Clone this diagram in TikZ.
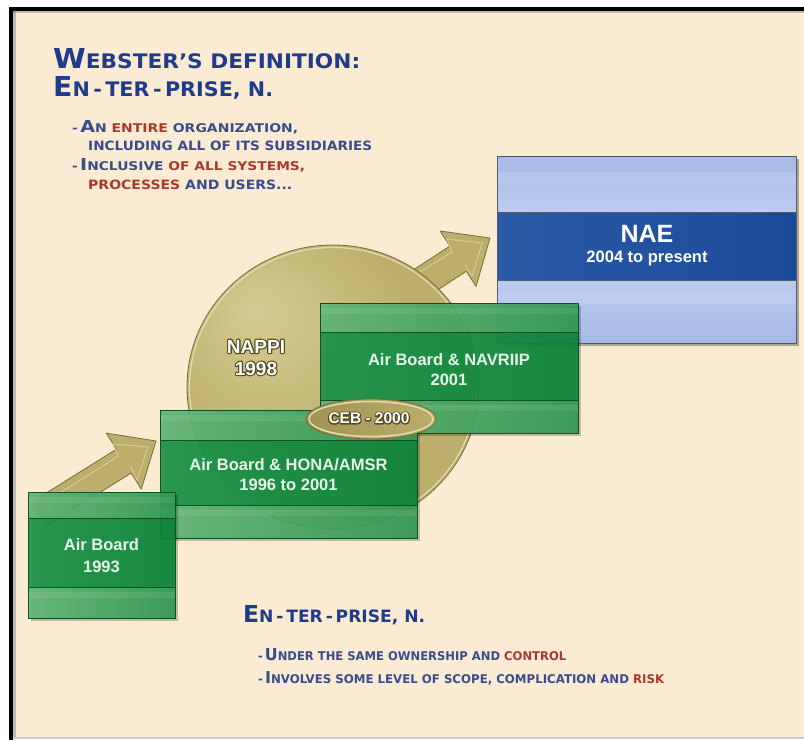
\documentclass[tikz,border=0pt]{standalone}
\usepackage{fontspec}
\usepackage{graphicx}
\setmainfont{Liberation Sans}
\newfontfamily\cpfont{DejaVu Sans}
\definecolor{cream}{RGB}{251,235,211}
\definecolor{glL}{RGB}{98,182,120}
\definecolor{glR}{RGB}{50,153,84}
\definecolor{gdL}{RGB}{30,148,74}
\definecolor{gdR}{RGB}{12,133,58}
\definecolor{gbd}{RGB}{12,80,38}
\definecolor{gold}{RGB}{188,175,108}
\definecolor{goldL}{RGB}{214,203,145}
\definecolor{goldD}{RGB}{160,146,82}
\definecolor{goldE}{RGB}{118,108,55}
\definecolor{blL}{RGB}{165,186,232}
\definecolor{blR}{RGB}{188,204,240}
\definecolor{blD}{RGB}{28,74,155}
\definecolor{blDL}{RGB}{40,90,166}
\definecolor{nbd}{RGB}{80,90,112}
\definecolor{boxtxt}{RGB}{230,246,230}
\definecolor{tblue}{RGB}{32,58,140}
\definecolor{bblue}{RGB}{58,76,140}
\definecolor{tred}{RGB}{168,58,45}
\pgfdeclareradialshading{goldball}{\pgfpoint{-14bp}{14bp}}{color(0bp)=(goldL);color(22bp)=(gold);color(44bp)=(gold);color(50bp)=(goldD)}
\newcommand\Bg[1]{{\fontsize{26}{26}\selectfont #1}}
\newcommand\Sm[1]{{\fontsize{19}{19}\selectfont #1}}
\newcommand\halo[1]{\special{pdf:literal direct 0.32 0.29 0.13 RG 1 Tr 2.4 w 1 j}#1\special{pdf:literal direct 0 Tr}}
\newcommand\gbox[6]{%
  \fill[black,opacity=0.22] (#1+3,#2+3) rectangle (#3+3,#6+3);
  \shade[left color=glL,right color=glR,opacity=0.93] (#1,#2) rectangle (#3,#4);
  \shade[left color=glL,right color=glR,opacity=0.93] (#1,#5) rectangle (#3,#6);
  \fill[white,opacity=0.08] (#1,#2+5) rectangle (#3,#2+11);
  \fill[white,opacity=0.08] (#1,#5+5) rectangle (#3,#5+11);
  \shade[left color=gdL,right color=gdR,opacity=0.93] (#1,#4) rectangle (#3,#5);
  \draw[gbd,line width=0.8] (#1,#2) rectangle (#3,#6);
  \draw[gbd,line width=1] (#1,#4) -- (#3,#4) (#1,#5) -- (#3,#5);
}
\tikzset{
  boxtext/.style={text=boxtxt,font=\bfseries\fontsize{16.5}{16.5}\selectfont,inner sep=0,anchor=base},
  embtx/.style={text=white,font=\bfseries\fontsize{19}{19}\selectfont,inner sep=0,anchor=base},
  cebtx/.style={text=white,font=\bfseries\fontsize{15.5}{15.5}\selectfont,inner sep=0,anchor=base},
  head/.style={font=\cpfont\bfseries,inner sep=0,anchor=base west},
  arrowshape/.style={fill=gold,draw=goldE,line width=0.8,line join=round}
}
\begin{document}
\begin{tikzpicture}[x=1pt,y=-1pt]
\useasboundingbox (0,0) rectangle (804,740);
% frame and background
\fill[white] (0,0) rectangle (804,740);
\fill[cream] (13,10.5) rectangle (804,737.5);
\fill[gray,opacity=0.45] (13,10.5) rectangle (804,13);
\fill[gray,opacity=0.45] (13,10.5) rectangle (15.5,737.5);
\fill[gray!40] (13,737) rectangle (804,738.5);
\fill[black] (9,7) rectangle (804,10.5);
\fill[black] (9,7) rectangle (13,740);
% small arrow
\filldraw[arrowshape] (31.6,502.2) -- (116.4,449.2) -- (106.3,433.1) -- (156,441) -- (141.3,489.1) -- (131.2,473.0) -- (46.4,526.0) -- cycle;
\draw[goldL,line width=1] (60,493) -- (118.5,456) -- (113,444) -- (148,447) -- (137,480) -- (130.5,466);
% big arrow
\filldraw[arrowshape] (332.4,322.4) -- (449.9,246.1) -- (440.1,231.0) -- (490,238) -- (476.1,286.4) -- (466.3,271.3) -- (348.8,347.6) -- cycle;
\draw[goldL,line width=1] (410,278) -- (452,252) -- (447,239) -- (482,243) -- (472,276) -- (465,265);
% circle NAPPI
\shade[shading=goldball] (333,387) ellipse [x radius=146pt, y radius=142pt];
\draw[goldE,line width=0.8] (333,387) ellipse [x radius=146pt, y radius=142pt];
\draw[goldL!70!white,line width=1.2] (333,387) ellipse [x radius=143.5pt, y radius=139.5pt];
% NAE box
\fill[black,opacity=0.3] (500,159) rectangle (799,346);
\shade[top color=blL,bottom color=blR] (497,156) rectangle (796,212);
\shade[top color=blR,bottom color=blL] (497,280) rectangle (796,343);
\fill[white,opacity=0.1] (497,172) rectangle (796,184);
\fill[white,opacity=0.1] (497,292) rectangle (796,304);
\shade[left color=blDL,right color=blD] (497,212) rectangle (796,280);
\draw[nbd,line width=0.9] (497,156) rectangle (796,343);
\draw[nbd,line width=1] (497,212) -- (796,212) (497,280) -- (796,280);
% green boxes
\gbox{320}{303}{578}{332}{400}{433}
\gbox{160}{410}{417}{440}{505}{538}
\gbox{28}{492}{175}{518}{587}{618}
% CEB ellipse
\shade[left color=goldD,right color=gold] (371,419) ellipse [x radius=65pt, y radius=20pt];
\draw[goldE,line width=0.8] (371,419) ellipse [x radius=65pt, y radius=20pt];
\draw[goldL!70!white,line width=1.5] (371,419) ellipse [x radius=62pt, y radius=17.5pt];
% box texts
\node[boxtext] (ab1) at (101.5,550) {Air Board};
\node[boxtext] (ab2) at (101.5,572) {1993};
\node[boxtext] (hona1) at (288.5,470) {Air Board \& HONA/AMSR};
\node[boxtext] (hona2) at (288.5,490) {1996 to 2001};
\node[boxtext] (nav1) at (449,365) {Air Board \& NAVRIIP};
\node[boxtext] (nav2) at (449,385) {2001};
\node[boxtext,text=white,font=\bfseries\fontsize{25}{25}\selectfont] (nae1) at (647,242) {NAE};
\node[boxtext,text=white] (nae2) at (647,262) {2004 to present};
% embossed labels: dark stroked halo under white text
\node[embtx] (nappih) at (256,353) {\halo{NAPPI}};
\node[embtx] (nappiyrh) at (256,375) {\halo{1998}};
\node[cebtx] (cebh) at (369,423.5) {\halo{CEB - 2000}};
\node[embtx] (nappi) at (256,353) {NAPPI};
\node[embtx] (nappiyr) at (256,375) {1998};
\node[cebtx] (ceb) at (369,423.5) {CEB - 2000};
% headings top
\node[head,text=tblue] (t1) at (53,68) {\resizebox{307pt}{20pt}{\Bg{W}\Sm{EBSTER’S DEFINITION:}}};
\node[head,text=tblue] (t2) at (53,96) {\resizebox{220pt}{20pt}{\Bg{E}\Sm{N\,-\,TER\,-\,PRISE, N.}}};
\node[head,text=bblue] (b1) at (72,132) {\resizebox{226pt}{12pt}{\Sm{-\,}\Bg{A}\Sm{N \textcolor{tred}{ENTIRE} ORGANIZATION,}}};
\node[head,text=bblue] (b2) at (88,150) {\resizebox{284pt}{9.5pt}{\Sm{INCLUDING ALL OF ITS SUBSIDIARIES}}};
\node[head,text=bblue] (b3) at (72,170) {\resizebox{233pt}{12pt}{\Sm{-\,}\Bg{I}\Sm{NCLUSIVE \textcolor{tred}{OF ALL SYSTEMS,}}}};
\node[head,text=bblue] (b4) at (88,189) {\resizebox{204pt}{9.5pt}{\Sm{\textcolor{tred}{PROCESSES} AND USERS...}}};
% headings bottom
\node[head,text=tblue] (t3) at (243,622) {\resizebox{182pt}{17pt}{\Bg{E}\Sm{N\,-\,TER\,-\,PRISE, N.}}};
\node[head,text=bblue] (b5) at (258,660) {\resizebox{308pt}{12pt}{\Sm{-\,}\Bg{U}\Sm{NDER THE SAME OWNERSHIP AND \textcolor{tred}{CONTROL}}}};
\node[head,text=bblue] (b6) at (258,683) {\resizebox{406pt}{12pt}{\Sm{-\,}\Bg{I}\Sm{NVOLVES SOME LEVEL OF SCOPE, COMPLICATION AND \textcolor{tred}{RISK}}}};
\end{tikzpicture}
\end{document}
